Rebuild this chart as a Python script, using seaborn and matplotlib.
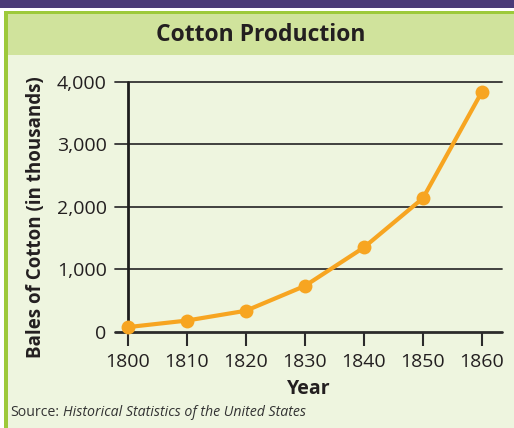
import numpy as np
import pandas as pd
import seaborn as sns
import matplotlib.pyplot as plt
from matplotlib.patches import Rectangle

# Cotton production, bales in thousands
years = [1800, 1810, 1820, 1830, 1840, 1850, 1860]
bales = [73, 178, 335, 732, 1348, 2136, 3841]
y_ticks = [0, 1000, 2000, 3000, 4000]
y_tick_labels = ["0", "1,000", "2,000", "3,000", "4,000"]

df = pd.DataFrame({"Year": years, "Bales": bales})

sns.set_style("white")
plt.rcParams['font.family'] = ['Open Sans', 'DejaVu Sans']

W, H = 514, 428
bg = "#eef5df"
band = "#d0e39c"
green = "#9dc93a"
purple = "#4b3b78"
orange = "#f7a521"
dark = "#2b2b2b"

fig = plt.figure(figsize=(W / 100, H / 100), dpi=100)
fig.patch.set_facecolor("white")

def px_rect(x0, y0, x1, y1, color):
    # rectangle in pixel coords measured from top-left
    fig.patches.append(Rectangle((x0 / W, 1 - y1 / H), (x1 - x0) / W, (y1 - y0) / H,
                                 transform=fig.transFigure, facecolor=color,
                                 edgecolor="none", zorder=-10))

px_rect(0, 0, W, 8, purple)
px_rect(4, 11, W, H, green)
px_rect(8, 14, W, H, bg)
px_rect(8, 14, W, 55, band)

fig.text(261 / W, 1 - 35 / H, "Cotton Production", ha="center", va="center",
         fontsize=16.5, fontweight="bold", color="#231f20")

ax = fig.add_axes([115 / W, 1 - 331.7 / H, (502 - 115) / W, (331.7 - 81.7) / H])
ax.set_zorder(5)
ax.set_facecolor("none")
for s in ax.spines.values():
    s.set_visible(False)

x_left = 1800 - 12.7 / 5.905
x_right = 1860 + 20 / 5.905
ax.set_xlim(x_left, x_right)
ax.set_ylim(0, 4000)

for yt in y_ticks[1:]:
    ax.axhline(yt, color="#333333", lw=1.3, zorder=1, clip_on=False)
ax.axhline(0, color=dark, lw=2, zorder=2, clip_on=False)
ax.axvline(1800, color="#1e1e1e", lw=2, zorder=2, clip_on=False)

sns.lineplot(data=df, x="Year", y="Bales", ax=ax, color=orange, lw=3,
             marker="o", markersize=10, markeredgewidth=0, zorder=5, clip_on=False)

ax.set_xticks(years)
ax.set_xticklabels([str(y) for y in years], fontsize=14, color="#231f20")
ax.set_yticks(y_ticks)
ax.set_yticklabels(y_tick_labels, fontsize=14, color="#231f20")
ax.tick_params(axis="x", length=10, width=1.5, color=dark, pad=5, bottom=True)
ax.tick_params(axis="y", length=0, pad=6, left=True)

ax.set_xlabel("Year", fontsize=14, fontweight="bold", color="#231f20", labelpad=6)
ax.set_ylabel("")
fig.text(36 / W, 1 - 217 / H, "Bales of Cotton (in thousands)", rotation=90,
         ha="center", va="center", fontsize=13.5, fontweight="bold", color="#231f20")

src = fig.text(10 / W, 1 - 413 / H, "Source:", ha="left", va="center", fontsize=10.2,
               color="#333333")
fig.canvas.draw()
bb = src.get_window_extent()
fig.text((bb.x1 + 4) / W, 1 - 413 / H, "Historical Statistics of the United States",
         ha="left", va="center", fontsize=10.2, style="italic", color="#333333")

fig.savefig("out.png", dpi=100, facecolor=fig.get_facecolor())
